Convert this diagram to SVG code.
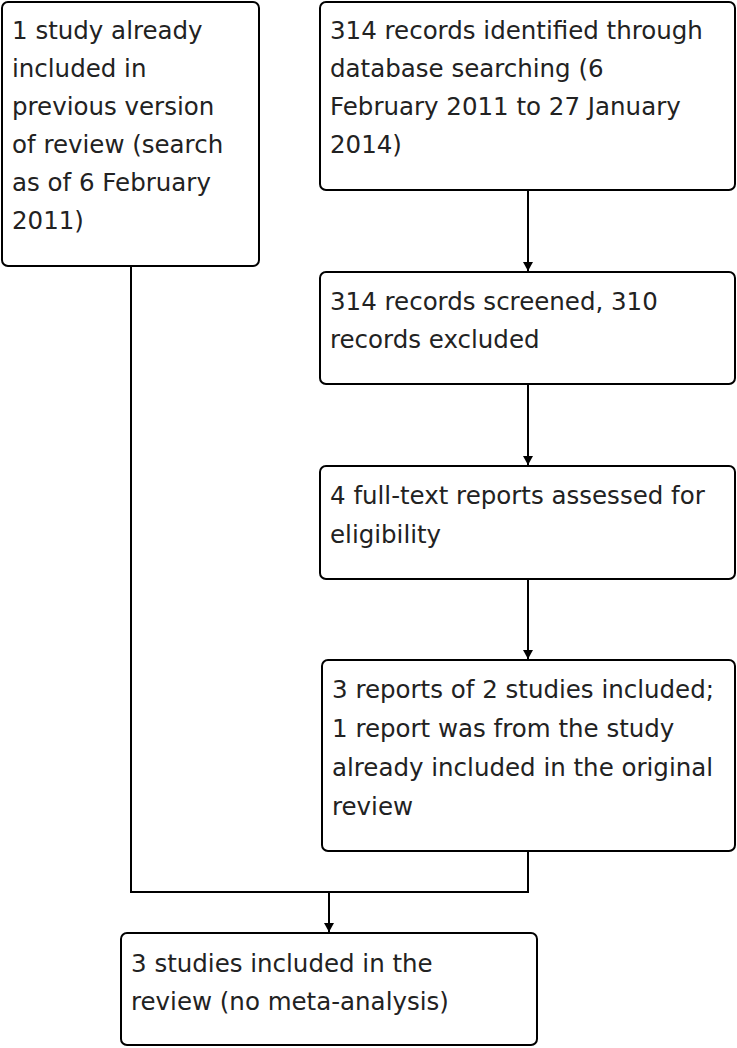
<svg xmlns="http://www.w3.org/2000/svg" width="737" height="1048" viewBox="0 0 737 1048">
<style>
.box{fill:#fff;stroke:#000;stroke-width:2}
.t{font-family:"DejaVu Sans",Verdana,sans-serif;font-size:24.5px;fill:#222}
.c{fill:none;stroke:#000;stroke-width:2}
</style>
<defs>
<marker id="ah" markerWidth="9" markerHeight="12" refX="9" refY="6" orient="auto" markerUnits="userSpaceOnUse">
<path d="M0,1 L9,6 L0,11 Z" fill="#000"/>
</marker>
</defs>
<rect width="737" height="1048" fill="#fff"/>
<g id="connectors">
<line class="c" x1="528" y1="190" x2="528" y2="271" marker-end="url(#ah)"/>
<line class="c" x1="528" y1="384" x2="528" y2="465" marker-end="url(#ah)"/>
<line class="c" x1="528" y1="579" x2="528" y2="659" marker-end="url(#ah)"/>
<polyline class="c" points="131,266 131,892 528,892 528,851"/>
<line class="c" x1="329" y1="892" x2="329" y2="932" marker-end="url(#ah)"/>
</g>
<g id="n1">
<rect class="box" x="2" y="2" width="257" height="264" rx="6"/>
<text class="t" x="12" y="39">1 study already</text>
<text class="t" x="12" y="77">included in</text>
<text class="t" x="12" y="115">previous version</text>
<text class="t" x="12" y="153">of review (search</text>
<text class="t" x="12" y="191">as of 6 February</text>
<text class="t" x="12" y="229">2011)</text>
</g>
<g id="n2">
<rect class="box" x="320" y="2" width="415" height="188" rx="6"/>
<text class="t" x="330" y="39">314 records identified through</text>
<text class="t" x="330" y="77">database searching (6</text>
<text class="t" x="330" y="115">February 2011 to 27 January</text>
<text class="t" x="330" y="153">2014)</text>
</g>
<g id="n3">
<rect class="box" x="320" y="272" width="415" height="112" rx="6"/>
<text class="t" x="330" y="310">314 records screened, 310</text>
<text class="t" x="330" y="348">records excluded</text>
</g>
<g id="n4">
<rect class="box" x="320" y="466" width="415" height="113" rx="6"/>
<text class="t" x="330" y="504">4 full-text reports assessed for</text>
<text class="t" x="330" y="543">eligibility</text>
</g>
<g id="n5">
<rect class="box" x="322" y="660" width="413" height="191" rx="6"/>
<text class="t" x="332" y="698">3 reports of 2 studies included;</text>
<text class="t" x="332" y="737">1 report was from the study</text>
<text class="t" x="332" y="776">already included in the original</text>
<text class="t" x="332" y="815">review</text>
</g>
<g id="n6">
<rect class="box" x="121" y="933" width="416" height="112" rx="6"/>
<text class="t" x="131" y="972">3 studies included in the</text>
<text class="t" x="131" y="1010">review (no meta-analysis)</text>
</g>
</svg>
